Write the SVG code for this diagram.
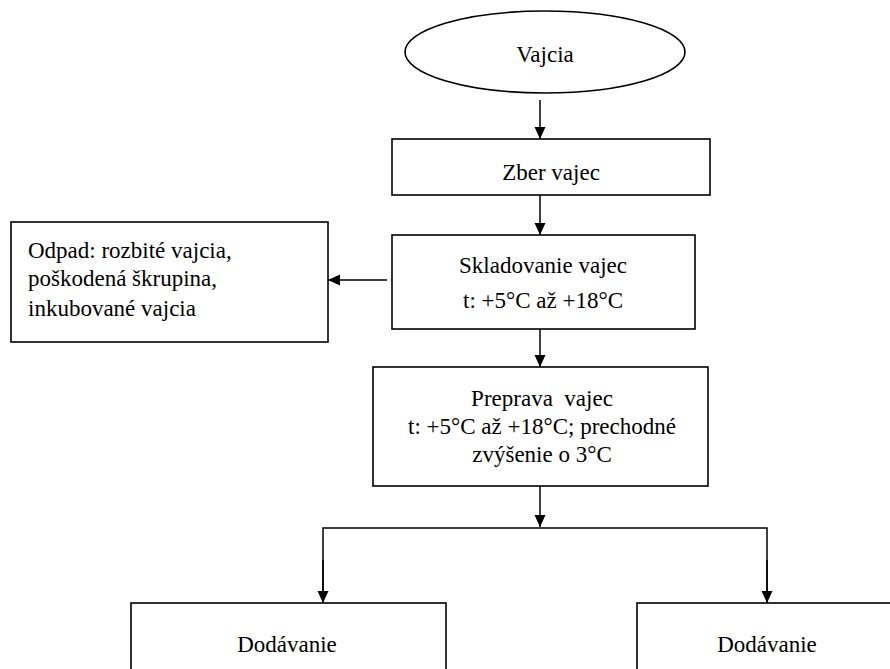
<svg xmlns="http://www.w3.org/2000/svg" width="890" height="669" viewBox="0 0 890 669">
  <style>
    .box { fill: #fff; stroke: #000; stroke-width: 1.6; }
    .line { fill: none; stroke: #000; stroke-width: 1.5; }
    text { font-family: "Liberation Serif", "Times New Roman", serif; font-size: 23px; fill: #000; }
    .c { text-anchor: middle; }
  </style>
  <defs>
    <marker id="arrow" markerWidth="12" markerHeight="14" refX="12" refY="6" orient="auto" markerUnits="userSpaceOnUse">
      <path d="M0,0.5 L12,6 L0,11.5 Z" fill="#000"/>
    </marker>
  </defs>
  <rect width="890" height="669" fill="#fff"/>

  <g id="connectors">
    <line class="line" x1="540" y1="100" x2="540" y2="139" marker-end="url(#arrow)"/>
    <line class="line" x1="540" y1="195" x2="540" y2="235" marker-end="url(#arrow)"/>
    <line class="line" x1="387" y1="280" x2="328" y2="280" marker-end="url(#arrow)"/>
    <line class="line" x1="540" y1="329" x2="540" y2="367" marker-end="url(#arrow)"/>
    <line class="line" x1="540" y1="486" x2="540" y2="527" marker-end="url(#arrow)"/>
    <polyline class="line" points="323,603 323,528 767,528 767,603" />
    <line class="line" x1="323" y1="560" x2="323" y2="603" marker-end="url(#arrow)"/>
    <line class="line" x1="767" y1="560" x2="767" y2="603" marker-end="url(#arrow)"/>
  </g>

  <g id="vajcia">
    <ellipse class="box" cx="545" cy="52" rx="140" ry="41"/>
    <text class="c" x="545" y="62">Vajcia</text>
  </g>

  <g id="zber">
    <rect class="box" x="392" y="139" width="318" height="56"/>
    <text class="c" x="551" y="180">Zber vajec</text>
  </g>

  <g id="skladovanie">
    <rect class="box" x="392" y="235" width="303" height="94"/>
    <text class="c" x="543" y="273">Skladovanie vajec</text>
    <text class="c" x="543" y="308">t: +5°C až +18°C</text>
  </g>

  <g id="odpad">
    <rect class="box" x="11" y="222" width="317" height="120"/>
    <text x="28" y="258">Odpad: rozbité vajcia,</text>
    <text x="28" y="286">poškodená škrupina,</text>
    <text x="28" y="316">inkubované vajcia</text>
  </g>

  <g id="preprava">
    <rect class="box" x="373" y="367" width="335" height="119"/>
    <text class="c" x="542" y="406" xml:space="preserve">Preprava  vajec</text>
    <text class="c" x="542" y="434">t: +5°C až +18°C; prechodné</text>
    <text class="c" x="542" y="462">zvýšenie o 3°C</text>
  </g>

  <g id="dodavanie-1">
    <rect class="box" x="131" y="603" width="315" height="80"/>
    <text class="c" x="287" y="652">Dodávanie</text>
  </g>

  <g id="dodavanie-2">
    <rect class="box" x="637" y="603" width="270" height="80"/>
    <text class="c" x="767" y="652">Dodávanie</text>
  </g>
</svg>
